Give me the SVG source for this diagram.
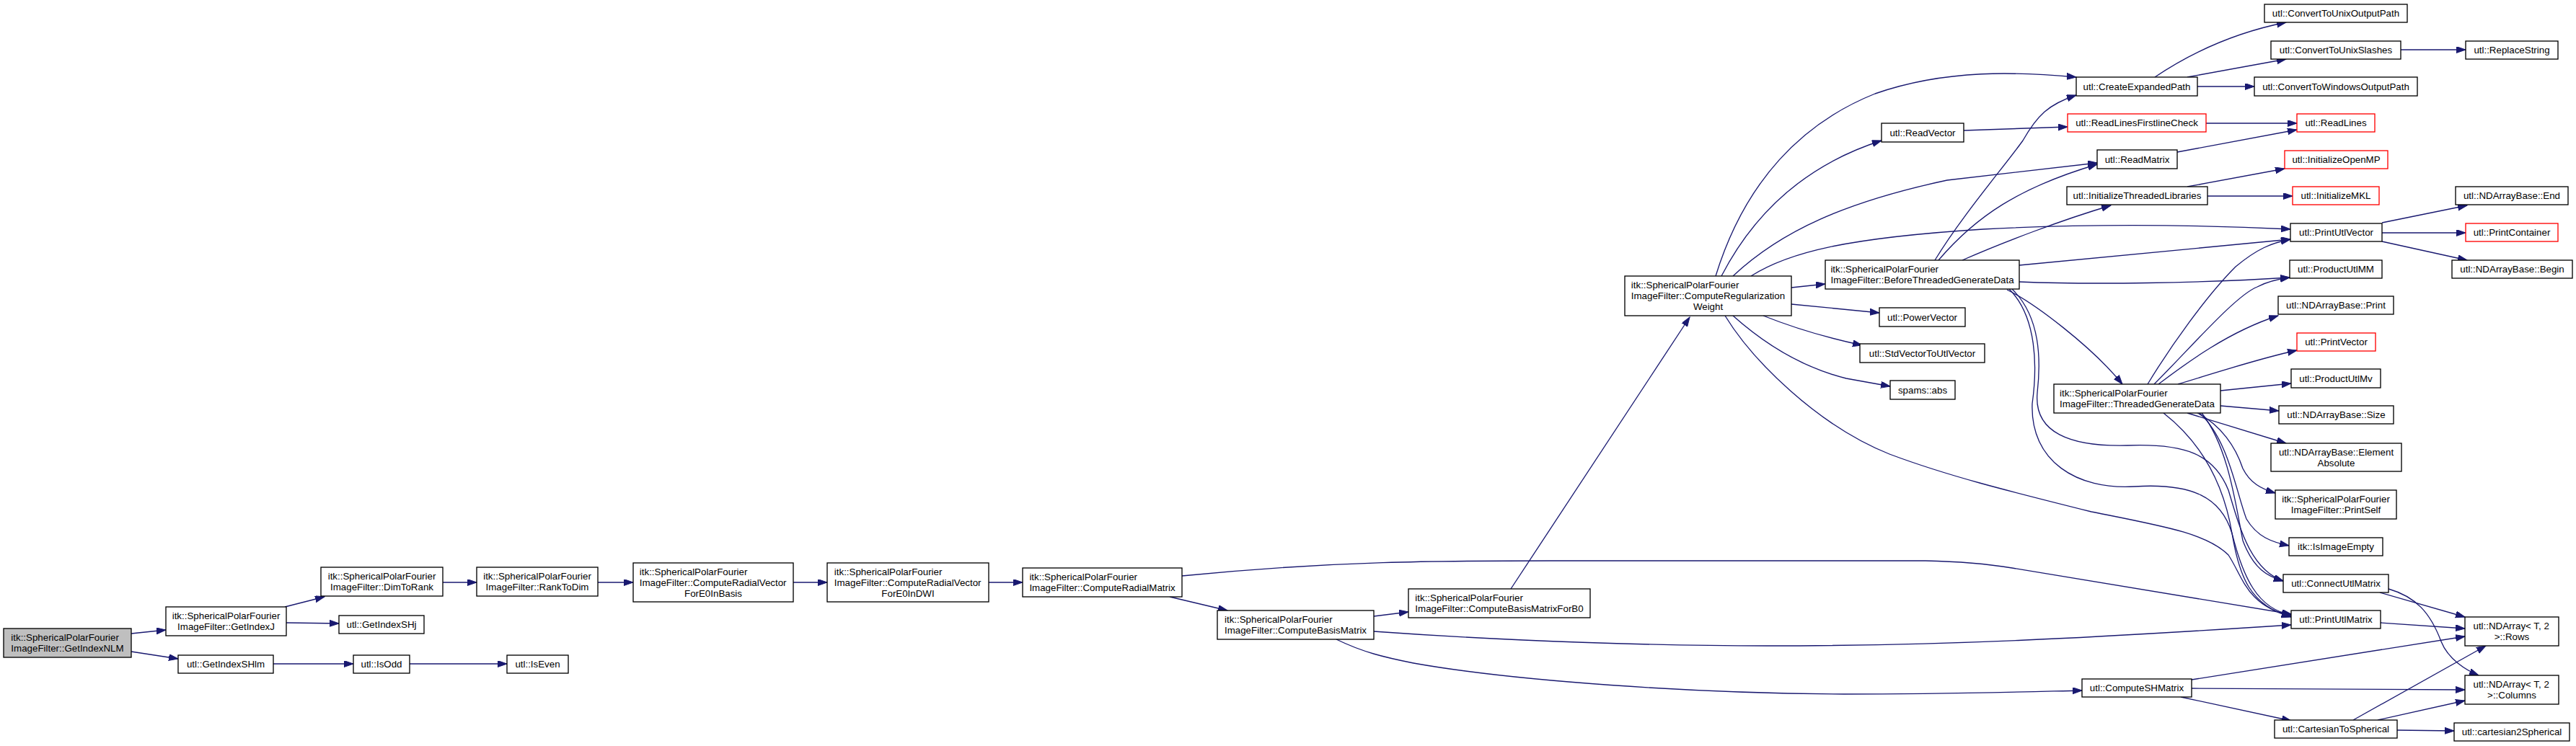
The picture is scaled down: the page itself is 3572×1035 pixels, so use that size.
<svg xmlns="http://www.w3.org/2000/svg" width="3572" height="1035" viewBox="0 0 3572 1035">
<style>
.node rect{fill:#fff;stroke:#000;stroke-width:1.33}
.node.red rect{stroke:#f00}
.node.root rect{fill:#bfbfbf}
text{font-family:"Liberation Sans",Arial,Helvetica,sans-serif;font-size:13.33px;fill:#000}
.m{text-anchor:middle}
.edges path{fill:none;stroke:#191970;stroke-width:1.33;marker-end:url(#ah)}
</style>
<defs>
<marker id="ah" markerUnits="userSpaceOnUse" markerWidth="14" markerHeight="10" refX="13" refY="4.5" orient="auto">
<path d="M0,0 L13,4.5 L0,9 z" fill="#191970" stroke="#191970" stroke-width="1"/>
</marker>
</defs>
<rect width="3572" height="1035" fill="#fff"/>
<g class="edges" id="edges">
<path d="M182,879 L230,874"/>
<path d="M182,904 L247,914"/>
<path d="M395,842 L450,828"/>
<path d="M397,864 L470,865"/>
<path d="M614,808 L661,808"/>
<path d="M829,808 L878,808"/>
<path d="M1100,808 L1147,808"/>
<path d="M1371,808 L1418,808"/>
<path d="M379,921 L490,921"/>
<path d="M568,921 L703,921"/>
<path d="M1622,828 L1702,847"/>
<path d="M1639,799 C1850,778 2000,778 2150,778 L2670,778 C2720,779 2760,783 2790,788 L3177,852"/>
<path d="M1905,855 L1953,849"/>
<path d="M1905,876 C2100,890 2300,896 2450,896 C2700,896 2900,885 3177,867"/>
<path d="M1853,887 C1890,905 1920,912 1960,920 C2100,945 2350,962 2557,963 C2700,963 2800,960 2887,958"/>
<path d="M2095,817 L2343,440"/>
<path d="M2379,383 C2420,250 2500,170 2600,130 C2700,95 2800,100 2879,107"/>
<path d="M2387,383 C2430,300 2500,230 2609,195"/>
<path d="M2403,383 C2470,320 2560,280 2700,250 L2908,226"/>
<path d="M2428,383 C2480,350 2560,330 2750,318 C2900,310 3050,312 3176,318"/>
<path d="M2484,399 L2531,394"/>
<path d="M2484,422 L2606,434"/>
<path d="M2445,438 C2490,456 2540,470 2582,479"/>
<path d="M2403,438 C2450,480 2500,510 2560,525 L2621,536"/>
<path d="M2392,438 C2430,500 2520,590 2620,630 C2700,660 2780,680 2900,710 C3000,730 3060,740 3090,770 C3110,800 3115,840 3177,855"/>
<path d="M2683,361 C2720,300 2780,230 2805,195 C2825,160 2840,145 2879,132"/>
<path d="M2688,361 C2740,300 2800,260 2908,228"/>
<path d="M2721,361 C2780,335 2860,305 2927,285"/>
<path d="M2800,368 L3176,332"/>
<path d="M2800,391 C2900,395 3050,393 3175,385"/>
<path d="M2783,402 C2820,420 2900,480 2943,533"/>
<path d="M2790,401 C2830,440 2830,500 2825,545 C2820,600 2870,620 2950,618 C3030,615 3070,630 3090,680 C3105,730 3120,790 3166,806"/>
<path d="M2786,401 C2825,440 2825,510 2818,560 C2815,640 2880,680 2960,675 C3040,670 3080,690 3095,740 C3110,800 3130,845 3177,853"/>
<path d="M2978,533 C3010,480 3060,410 3100,370 C3130,345 3150,337 3176,332"/>
<path d="M2987,533 C3040,480 3100,410 3130,398 C3145,390 3160,387 3175,385"/>
<path d="M2993,533 C3030,505 3090,460 3159,438"/>
<path d="M3020,533 C3080,515 3130,498 3185,486"/>
<path d="M3079,542 L3177,532"/>
<path d="M3079,563 L3160,570"/>
<path d="M3033,573 L3170,615"/>
<path d="M3047,573 C3080,590 3100,620 3110,650 C3120,670 3135,678 3155,684"/>
<path d="M3050,573 C3090,610 3100,680 3115,720 C3130,745 3150,752 3174,757"/>
<path d="M3053,573 C3090,620 3100,700 3110,750 C3125,790 3145,800 3166,806"/>
<path d="M3000,573 C3060,620 3085,680 3095,740 C3105,800 3120,840 3177,856"/>
<path d="M2988,107 C3040,72 3100,45 3170,31"/>
<path d="M3033,107 L3170,82"/>
<path d="M3047,120 L3126,120"/>
<path d="M3329,69 L3419,69"/>
<path d="M2723,181 L2867,176"/>
<path d="M3059,171 L3185,171"/>
<path d="M3019,211 L3185,180"/>
<path d="M3033,259 L3168,234"/>
<path d="M3061,272 L3179,272"/>
<path d="M3303,309 L3421,285"/>
<path d="M3303,323 L3419,323"/>
<path d="M3303,335 L3421,361"/>
<path d="M3300,822 L3418,856"/>
<path d="M3312,817 C3350,828 3370,850 3385,890 C3395,915 3420,930 3437,937"/>
<path d="M3301,864 L3418,872"/>
<path d="M3039,943 L3418,883"/>
<path d="M3039,955 L3418,957"/>
<path d="M3024,967 L3177,1000"/>
<path d="M3263,999 L3447,896"/>
<path d="M3297,999 L3418,972"/>
<path d="M3324,1013 L3403,1014"/>
</g>
<g id="n0" class="node root"><rect x="5" y="872" width="177" height="40"/><text x="15.3" y="889">itk::SphericalPolarFourier</text><text class="m" x="93.5" y="904">ImageFilter::GetIndexNLM</text></g>
<g id="n1" class="node"><rect x="230" y="842" width="167" height="40"/><text x="238.7" y="859">itk::SphericalPolarFourier</text><text class="m" x="313.5" y="874">ImageFilter::GetIndexJ</text></g>
<g id="n2" class="node"><rect x="247" y="909" width="132" height="25"/><text class="m" x="313" y="926">utl::GetIndexSHlm</text></g>
<g id="n3" class="node"><rect x="445" y="787" width="169" height="40"/><text x="454.7" y="804">itk::SphericalPolarFourier</text><text class="m" x="529.5" y="819">ImageFilter::DimToRank</text></g>
<g id="n4" class="node"><rect x="470" y="854" width="118" height="25"/><text class="m" x="529" y="871">utl::GetIndexSHj</text></g>
<g id="n5" class="node"><rect x="490" y="909" width="78" height="25"/><text class="m" x="529" y="926">utl::IsOdd</text></g>
<g id="n6" class="node"><rect x="661" y="787" width="168" height="40"/><text x="670.2" y="804">itk::SphericalPolarFourier</text><text class="m" x="745" y="819">ImageFilter::RankToDim</text></g>
<g id="n7" class="node"><rect x="703" y="909" width="85" height="25"/><text class="m" x="745.5" y="926">utl::IsEven</text></g>
<g id="n8" class="node"><rect x="878" y="781" width="222" height="54"/><text x="886.8" y="797.5">itk::SphericalPolarFourier</text><text x="886.8" y="812.5">ImageFilter::ComputeRadialVector</text><text class="m" x="989" y="827.5">ForE0InBasis</text></g>
<g id="n9" class="node"><rect x="1147" y="781" width="224" height="54"/><text x="1156.8" y="797.5">itk::SphericalPolarFourier</text><text x="1156.8" y="812.5">ImageFilter::ComputeRadialVector</text><text class="m" x="1259" y="827.5">ForE0InDWI</text></g>
<g id="n10" class="node"><rect x="1418" y="788" width="221" height="40"/><text x="1427.4" y="805">itk::SphericalPolarFourier</text><text class="m" x="1528.5" y="820">ImageFilter::ComputeRadialMatrix</text></g>
<g id="n11" class="node"><rect x="1688" y="847" width="217" height="40"/><text x="1698" y="864">itk::SphericalPolarFourier</text><text class="m" x="1796.5" y="879">ImageFilter::ComputeBasisMatrix</text></g>
<g id="n12" class="node"><rect x="1953" y="817" width="252" height="40"/><text x="1962.3" y="834">itk::SphericalPolarFourier</text><text class="m" x="2079" y="849">ImageFilter::ComputeBasisMatrixForB0</text></g>
<g id="n13" class="node"><rect x="2253" y="383" width="231" height="55"/><text x="2261.8" y="400">itk::SphericalPolarFourier</text><text x="2261.8" y="415">ImageFilter::ComputeRegularization</text><text class="m" x="2368.5" y="430">Weight</text></g>
<g id="n14" class="node"><rect x="2531" y="361" width="269" height="40"/><text x="2538.4" y="378">itk::SphericalPolarFourier</text><text class="m" x="2665.5" y="393">ImageFilter::BeforeThreadedGenerateData</text></g>
<g id="n15" class="node"><rect x="2609" y="171" width="114" height="26"/><text class="m" x="2666" y="188.5">utl::ReadVector</text></g>
<g id="n16" class="node"><rect x="2606" y="427" width="119" height="26"/><text class="m" x="2665.5" y="444.5">utl::PowerVector</text></g>
<g id="n17" class="node"><rect x="2579" y="477" width="173" height="26"/><text class="m" x="2665.5" y="494.5">utl::StdVectorToUtlVector</text></g>
<g id="n18" class="node"><rect x="2621" y="528" width="90" height="26"/><text class="m" x="2666" y="545.5">spams::abs</text></g>
<g id="n19" class="node"><rect x="2879" y="107" width="168" height="26"/><text class="m" x="2963" y="124.5">utl::CreateExpandedPath</text></g>
<g id="n20" class="node red"><rect x="2867" y="158" width="192" height="25"/><text class="m" x="2963" y="175">utl::ReadLinesFirstlineCheck</text></g>
<g id="n21" class="node"><rect x="2908" y="208" width="111" height="26"/><text class="m" x="2963.5" y="225.5">utl::ReadMatrix</text></g>
<g id="n22" class="node"><rect x="2866" y="259" width="195" height="25"/><text class="m" x="2963.5" y="276">utl::InitializeThreadedLibraries</text></g>
<g id="n23" class="node"><rect x="2848" y="533" width="231" height="40"/><text x="2856" y="550">itk::SphericalPolarFourier</text><text class="m" x="2963.5" y="565">ImageFilter::ThreadedGenerateData</text></g>
<g id="n24" class="node"><rect x="2887" y="942" width="152" height="25"/><text class="m" x="2963" y="959">utl::ComputeSHMatrix</text></g>
<g id="n25" class="node"><rect x="3140" y="6" width="198" height="25"/><text class="m" x="3239" y="23">utl::ConvertToUnixOutputPath</text></g>
<g id="n26" class="node"><rect x="3149" y="57" width="180" height="25"/><text class="m" x="3239" y="74">utl::ConvertToUnixSlashes</text></g>
<g id="n27" class="node"><rect x="3126" y="107" width="226" height="26"/><text class="m" x="3239" y="124.5">utl::ConvertToWindowsOutputPath</text></g>
<g id="n28" class="node red"><rect x="3185" y="158" width="108" height="25"/><text class="m" x="3239" y="175">utl::ReadLines</text></g>
<g id="n29" class="node red"><rect x="3168" y="209" width="143" height="25"/><text class="m" x="3239.5" y="226">utl::InitializeOpenMP</text></g>
<g id="n30" class="node red"><rect x="3179" y="259" width="120" height="25"/><text class="m" x="3239" y="276">utl::InitializeMKL</text></g>
<g id="n31" class="node"><rect x="3176" y="310" width="127" height="25"/><text class="m" x="3239.5" y="327">utl::PrintUtlVector</text></g>
<g id="n32" class="node"><rect x="3175" y="361" width="128" height="25"/><text class="m" x="3239" y="378">utl::ProductUtlMM</text></g>
<g id="n33" class="node"><rect x="3159" y="411" width="160" height="25"/><text class="m" x="3239" y="428">utl::NDArrayBase::Print</text></g>
<g id="n34" class="node red"><rect x="3185" y="462" width="109" height="25"/><text class="m" x="3239.5" y="479">utl::PrintVector</text></g>
<g id="n35" class="node"><rect x="3177" y="512" width="124" height="26"/><text class="m" x="3239" y="529.5">utl::ProductUtlMv</text></g>
<g id="n36" class="node"><rect x="3160" y="563" width="159" height="25"/><text class="m" x="3239.5" y="580">utl::NDArrayBase::Size</text></g>
<g id="n37" class="node"><rect x="3149" y="615" width="181" height="39"/><text x="3159.9" y="631.5">utl::NDArrayBase::Element</text><text class="m" x="3239.5" y="646.5">Absolute</text></g>
<g id="n38" class="node"><rect x="3155" y="680" width="168" height="40"/><text x="3164.2" y="697">itk::SphericalPolarFourier</text><text class="m" x="3239" y="712">ImageFilter::PrintSelf</text></g>
<g id="n39" class="node"><rect x="3174" y="746" width="130" height="25"/><text class="m" x="3239" y="763">itk::IsImageEmpty</text></g>
<g id="n40" class="node"><rect x="3166" y="797" width="146" height="25"/><text class="m" x="3239" y="814">utl::ConnectUtlMatrix</text></g>
<g id="n41" class="node"><rect x="3177" y="847" width="124" height="25"/><text class="m" x="3239" y="864">utl::PrintUtlMatrix</text></g>
<g id="n42" class="node"><rect x="3154" y="999" width="170" height="25"/><text class="m" x="3239" y="1016">utl::CartesianToSpherical</text></g>
<g id="n43" class="node"><rect x="3419" y="57" width="128" height="25"/><text class="m" x="3483" y="74">utl::ReplaceString</text></g>
<g id="n44" class="node"><rect x="3405" y="259" width="156" height="25"/><text class="m" x="3483" y="276">utl::NDArrayBase::End</text></g>
<g id="n45" class="node red"><rect x="3419" y="310" width="128" height="25"/><text class="m" x="3483" y="327">utl::PrintContainer</text></g>
<g id="n46" class="node"><rect x="3400" y="361" width="167" height="25"/><text class="m" x="3483.5" y="378">utl::NDArrayBase::Begin</text></g>
<g id="n47" class="node"><rect x="3418" y="856" width="130" height="40"/><text x="3429.5" y="873">utl::NDArray&lt; T, 2</text><text class="m" x="3483" y="888">&gt;::Rows</text></g>
<g id="n48" class="node"><rect x="3418" y="937" width="130" height="40"/><text x="3429.5" y="954">utl::NDArray&lt; T, 2</text><text class="m" x="3483" y="969">&gt;::Columns</text></g>
<g id="n49" class="node"><rect x="3403" y="1003" width="160" height="25"/><text class="m" x="3483" y="1020">utl::cartesian2Spherical</text></g>
</svg>
